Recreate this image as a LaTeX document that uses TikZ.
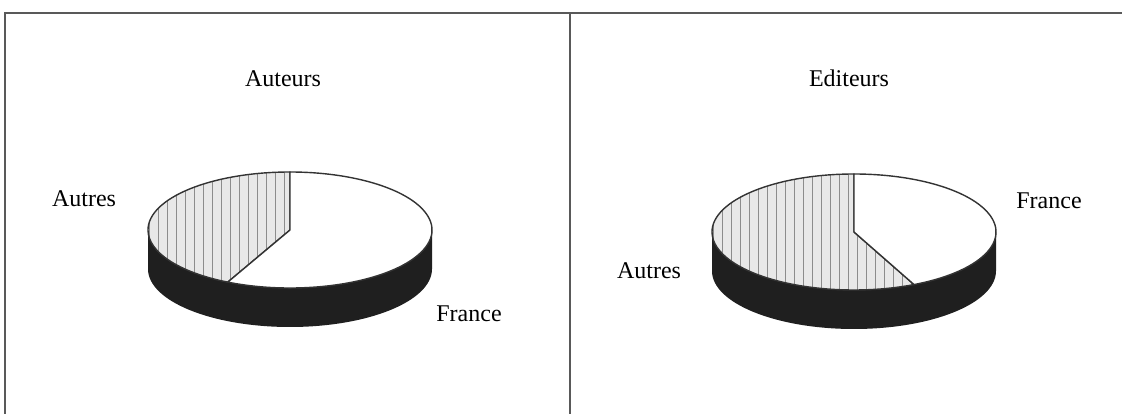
\documentclass[tikz,border=0pt]{standalone}
\usepackage{fontspec}
\setmainfont{Liberation Serif}
\begin{document}
\begin{tikzpicture}[x=1pt,y=1pt,
  frameline/.style={draw=black!65,line width=1.6pt},
  edgeline/.style={draw=black!80,line width=1.4pt},
  sidefill/.style={fill=black!88},
  hatchbg/.style={fill=black!9},
  hatchln/.style={draw=black!45,line width=0.8pt},
  lbl/.style={font=\fontsize{24}{28}\selectfont,inner sep=0pt,anchor=base,text=black}]
\useasboundingbox (0,0) rectangle (1122,414);
\fill[white] (0,0) rectangle (1122,414);
% table frame
\coordinate (tl) at (5,401);
\coordinate (tr) at (1122,401);
\coordinate (bl) at (5,0);
\coordinate (tm) at (570,401);
\coordinate (bm) at (570,0);
\draw[frameline] (bl) -- (tl) -- (tr);
\draw[frameline] (tm) -- (bm);

% ---------- left pie (Auteurs) ----------
\begin{scope}[shift={(290,184)}]
  \fill[sidefill] (-142,0) -- (-142,-39) arc[start angle=180,end angle=360,x radius=142,y radius=58]
     -- (142,0) arc[start angle=0,end angle=-180,x radius=142,y radius=58] -- cycle;
  % Autres slice
  \begin{scope}
    \clip (0,0) -- (0,58) arc[start angle=90,end angle=244,x radius=142,y radius=58] -- cycle;
    \fill[hatchbg] (-150,-70) rectangle (150,70);
    \foreach \i in {-141,-132,...,0} \draw[hatchln] (\i,-70) -- (\i,70);
  \end{scope}
  \draw[edgeline] (0,0) -- (0,58) arc[start angle=90,end angle=244,x radius=142,y radius=58] -- cycle;
  % France slice
  \fill[white] (0,0) -- (244:142 and 58) arc[start angle=244,end angle=450,x radius=142,y radius=58] -- cycle;
  \draw[edgeline] (0,0) -- (244:142 and 58) arc[start angle=244,end angle=450,x radius=142,y radius=58] -- cycle;
\end{scope}
\node[lbl] (t1) at (283,327) {Auteurs};
\node[lbl] (a1) at (84,207) {Autres};
\node[lbl] (f1) at (469,92) {France};

% ---------- right pie (Editeurs) ----------
\begin{scope}[shift={(854,182)}]
  \fill[sidefill] (-142,0) -- (-142,-39) arc[start angle=180,end angle=360,x radius=142,y radius=58]
     -- (142,0) arc[start angle=0,end angle=-180,x radius=142,y radius=58] -- cycle;
  \begin{scope}
    \clip (0,0) -- (0,58) arc[start angle=90,end angle=295,x radius=142,y radius=58] -- cycle;
    \fill[hatchbg] (-150,-70) rectangle (150,70);
    \foreach \i in {-141,-132,...,140} \draw[hatchln] (\i,-70) -- (\i,70);
  \end{scope}
  \draw[edgeline] (0,0) -- (0,58) arc[start angle=90,end angle=295,x radius=142,y radius=58] -- cycle;
  \fill[white] (0,0) -- (295:142 and 58) arc[start angle=295,end angle=450,x radius=142,y radius=58] -- cycle;
  \draw[edgeline] (0,0) -- (295:142 and 58) arc[start angle=295,end angle=450,x radius=142,y radius=58] -- cycle;
\end{scope}
\node[lbl] (t2) at (849,327) {Editeurs};
\node[lbl] (f2) at (1049,205) {France};
\node[lbl] (a2) at (649,135) {Autres};
\end{tikzpicture}
\end{document}
